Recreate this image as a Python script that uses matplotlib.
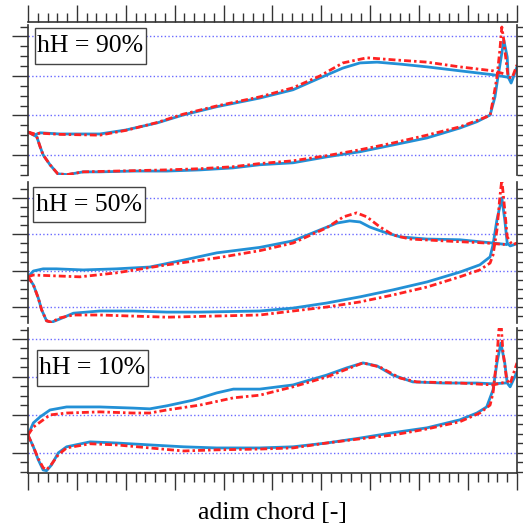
import numpy as np
import matplotlib.pyplot as plt
from matplotlib.ticker import MultipleLocator
from matplotlib.patches import Rectangle

plt.rcParams['lines.scale_dashes'] = False

# hH = 90%
x90_up_b = [0, .014, .025, .065, .147, .200, .264, .317, .386, .474, .542, .597, .644, .679, .714, .761, .816, .883, .951, .980]
y90_up_b = [.58, .51, .56, .53, .53, .63, .81, 1.01, 1.22, 1.44, 1.65, 1.95, 2.20, 2.33, 2.35, 2.30, 2.23, 2.13, 2.03, 1.97]
x90_lo_b = [0, .018, .025, .031, .045, .061, .080, .113, .147, .215, .284, .352, .419, .474, .542, .611, .679, .746, .816, .883, .918, .945, .955, .961, .969, .973, .980, .982, .988, .992, 1.0]
y90_lo_b = [.58, .46, .20, 0, -.25, -.48, -.50, -.43, -.43, -.41, -.41, -.38, -.33, -.25, -.20, -.05, .08, .25, .43, .68, .84, 1.01, 1.47, 1.97, 2.58, 2.91, 2.48, 1.97, 1.82, 1.95, 2.23]
x90_up_r = [0, .014, .025, .065, .147, .200, .264, .317, .386, .474, .542, .597, .644, .693, .746, .816, .883, .951, .975]
y90_up_r = [.58, .53, .55, .52, .50, .62, .82, 1.03, 1.24, 1.47, 1.70, 2.00, 2.33, 2.46, 2.41, 2.35, 2.23, 2.13, 2.05]
x90_lo_r = [0, .018, .025, .031, .045, .061, .080, .113, .147, .215, .284, .352, .419, .474, .542, .611, .679, .746, .816, .883, .918, .945, .951, .959, .965, .969, .973, .975, .982, .990, 1.0]
y90_lo_r = [.58, .46, .20, 0, -.25, -.48, -.50, -.43, -.42, -.40, -.38, -.35, -.30, -.22, -.15, -.02, .13, .30, .50, .71, .87, 1.0, 1.39, 1.97, 2.66, 3.24, 2.91, 2.66, 1.97, 1.95, 2.28]

# hH = 50%
x50_up_b = [0, .011, .031, .058, .113, .181, .249, .318, .386, .474, .542, .597, .632, .658, .679, .699, .726, .761, .816, .883, .951, .978]
y50_up_b = [.83, .99, 1.05, 1.05, 1.02, 1.05, 1.10, 1.29, 1.49, 1.64, 1.82, 2.12, 2.31, 2.37, 2.34, 2.20, 2.07, 1.93, 1.87, 1.85, 1.76, 1.72]
x50_lo_b = [0, .011, .021, .028, .038, .048, .065, .093, .147, .215, .284, .352, .474, .542, .611, .679, .746, .816, .883, .924, .945, .951, .959, .969, .975, .980, .986, 1.0]
y50_lo_b = [.83, .61, .25, -.08, -.38, -.42, -.33, -.17, -.11, -.11, -.14, -.14, -.11, -.03, .11, .28, .47, .69, .96, 1.16, 1.38, 1.71, 2.40, 3.0, 2.40, 1.76, 1.68, 1.74]
x50_up_r = [0, .011, .106, .181, .284, .386, .474, .542, .611, .645, .672, .693, .720, .747, .781, .849, .938, .975]
y50_up_r = [.83, .88, .83, .94, 1.16, 1.35, 1.55, 1.76, 2.18, 2.48, 2.59, 2.48, 2.20, 1.98, 1.87, 1.82, 1.76, 1.72]
x50_lo_r = [0, .011, .021, .028, .038, .048, .065, .093, .147, .284, .474, .542, .611, .679, .746, .816, .883, .924, .945, .951, .959, .965, .969, .975, .980, .990, 1.0]
y50_lo_r = [.83, .61, .25, -.08, -.38, -.42, -.30, -.22, -.22, -.28, -.22, -.11, 0, .14, .33, .55, .83, 1.02, 1.21, 1.43, 2.12, 3.03, 3.5, 2.67, 1.93, 1.71, 1.76]

# hH = 10%
x10_up_b = [0, .011, .025, .045, .079, .113, .147, .215, .249, .284, .338, .386, .420, .474, .542, .611, .652, .685, .714, .746, .787, .849, .918, .951, .975]
y10_up_b = [.47, .79, .95, 1.13, 1.21, 1.21, 1.21, 1.18, 1.16, 1.24, 1.39, 1.58, 1.68, 1.68, 1.79, 2.05, 2.24, 2.37, 2.29, 2.05, 1.87, 1.84, 1.84, 1.82, 1.84]
x10_lo_b = [0, .011, .021, .031, .038, .048, .062, .079, .127, .181, .249, .318, .386, .474, .542, .611, .679, .746, .816, .883, .918, .938, .951, .959, .967, .975, .980, .986, 1.0]
y10_lo_b = [.47, .16, -.18, -.45, -.47, -.32, 0, .16, .29, .26, .21, .16, .13, .13, .16, .26, .39, .53, .66, .87, 1.05, 1.21, 1.66, 2.37, 2.89, 2.37, 1.84, 1.74, 2.13]
x10_up_r = [0, .011, .045, .079, .147, .215, .249, .284, .352, .420, .474, .542, .611, .685, .720, .761, .795, .883, .951, .979]
y10_up_r = [.47, .68, 1.0, 1.05, 1.08, 1.05, 1.05, 1.13, 1.26, 1.45, 1.52, 1.74, 2.0, 2.37, 2.26, 1.97, 1.87, 1.84, 1.79, 1.87]
x10_lo_r = [0, .011, .021, .031, .038, .048, .062, .079, .127, .181, .249, .318, .386, .474, .542, .611, .679, .746, .816, .883, .924, .945, .951, .959, .963, .967, .971, .979, .986, 1.0]
y10_lo_r = [.47, .16, -.15, -.39, -.45, -.30, -.05, .13, .24, .21, .13, .05, .08, .10, .13, .26, .37, .47, .63, .82, 1.05, 1.26, 1.58, 2.53, 3.24, 3.5, 2.71, 1.92, 1.82, 2.37]

labels = ['hH = 90%', 'hH = 50%', 'hH = 10%']

blue = '#2290d6'
red = '#ff2222'
serif = ['Liberation Serif', 'DejaVu Serif']

fig = plt.figure(figsize=(5.23, 5.27), dpi=100)

# axes boxes (left, bottom, width, height) in figure fraction
boxes = [(0.0535, 0.6679, 0.935, 0.2846),
         (0.0535, 0.3871, 0.935, 0.2676),
         (0.0535, 0.1025, 0.935, 0.2751)]
ylims = [(-0.51, 3.29), (-0.44, 3.44), (-0.53, 3.29)]
# label frames in axes fraction: x0, y0, w, h
frames = [(0.0143, 0.74, 0.227, 0.24),
          (0.0102, 0.716, 0.229, 0.2485),
          (0.0184, 0.60, 0.227, 0.248)]

curves = [
    (x90_up_b, y90_up_b, x90_lo_b, y90_lo_b, x90_up_r, y90_up_r, x90_lo_r, y90_lo_r),
    (x50_up_b, y50_up_b, x50_lo_b, y50_lo_b, x50_up_r, y50_up_r, x50_lo_r, y50_lo_r),
    (x10_up_b, y10_up_b, x10_lo_b, y10_lo_b, x10_up_r, y10_up_r, x10_lo_r, y10_lo_r),
]

for i in range(3):
    ax = fig.add_axes(boxes[i])
    xub, yub, xlb, ylb, xur, yur, xlr, ylr = curves[i]
    # blue solid
    ax.plot(xub, yub, color=blue, lw=2.0)
    ax.plot(xlb, ylb, color=blue, lw=2.0)
    # red dash-dot
    ax.plot(xur, yur, color=red, lw=2.0, dashes=(5, 2.2, 1.8, 2.2))
    ax.plot(xlr, ylr, color=red, lw=2.0, dashes=(5, 2.2, 1.8, 2.2))

    ax.set_xlim(0, 1)
    ax.set_ylim(*ylims[i])
    ax.yaxis.set_major_locator(MultipleLocator(1))
    ax.yaxis.set_minor_locator(MultipleLocator(0.25))
    ax.xaxis.set_major_locator(MultipleLocator(0.1))
    ax.xaxis.set_minor_locator(MultipleLocator(0.02))
    ax.grid(True, axis='y', which='major', color='#6a6aff', ls=':', lw=1.0)

    for s in ax.spines.values():
        s.set_color('#333333')
        s.set_linewidth(1.2)
    ax.spines['top'].set_visible(i == 0)
    ax.spines['bottom'].set_visible(i == 2)
    if i == 0:
        ax.spines['top'].set_position(('outward', 2.2))

    ax.tick_params(axis='y', which='both', direction='out', left=True, right=True,
                   labelleft=False, labelright=False, color='#333333', width=1.0)
    ax.tick_params(axis='y', which='major', length=11.5)
    ax.tick_params(axis='y', which='minor', length=5.8)
    ax.tick_params(axis='x', which='both', direction='out', top=(i == 0), bottom=(i == 2),
                   labeltop=False, labelbottom=False, color='#333333', width=1.0)
    ax.tick_params(axis='x', which='major', length=12)
    ax.tick_params(axis='x', which='minor', length=6.5)

    fx, fy, fw, fh = frames[i]
    ax.add_patch(Rectangle((fx, fy), fw, fh, transform=ax.transAxes, fc='white',
                           ec='#444444', lw=1.0, zorder=4))
    ax.text(fx + fw / 2, fy + fh / 2, labels[i], transform=ax.transAxes, family=serif,
            fontsize=18.5, va='center', ha='center', zorder=5)

fig.text(0.521, 0.027, 'adim chord [-]', family=serif, fontsize=18.5,
         ha='center', va='center')

fig.savefig('out.png', dpi=100)
